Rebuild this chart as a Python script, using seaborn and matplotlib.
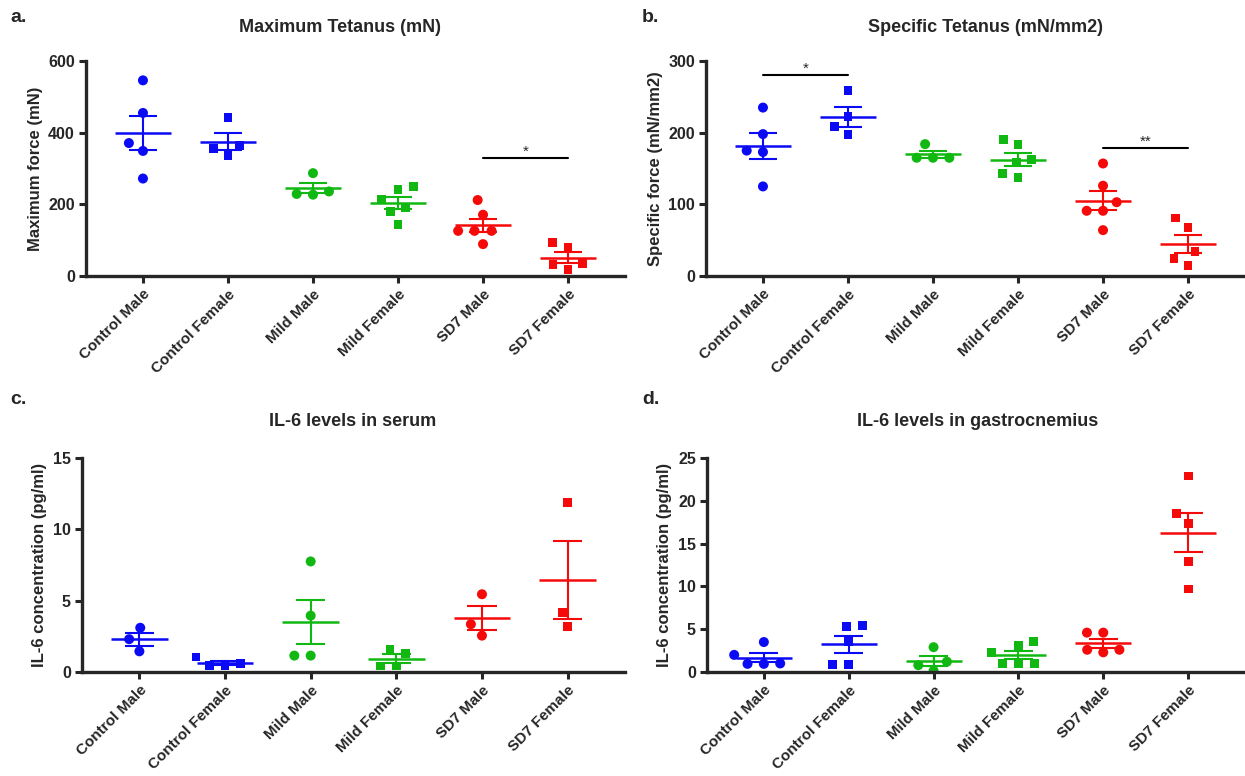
import numpy as np
import pandas as pd
import matplotlib
matplotlib.use('Agg')
import matplotlib.pyplot as plt
import seaborn as sns

groups = ['Control Male', 'Control Female', 'Mild Male', 'Mild Female', 'SD7 Male', 'SD7 Female']
colors = ['#0A0AF5', '#0A0AF5', '#12B812', '#12B812', '#F50A0A', '#F50A0A']

# values, one list per group
max_tetanus = [
    [546, 455, 371, 349, 272],
    [442, 365, 355, 336],
    [287, 236, 229, 227],
    [249, 241, 215, 192, 180, 143],
    [212, 171, 126, 126, 126, 89],
    [93, 81, 35, 31, 17],
]
specific_tetanus = [
    [235, 198, 175, 173, 125],
    [259, 222, 209, 197],
    [184, 165, 165, 165],
    [191, 183, 162, 158, 143, 137],
    [157, 126, 103, 91, 91, 64],
    [81, 68, 34, 25, 15],
]
il6_serum = [
    [3.1, 2.3, 1.45],
    [1.05, 0.6, 0.45, 0.45],
    [7.75, 3.95, 1.15, 1.15],
    [1.6, 1.3, 0.42, 0.42],
    [5.45, 3.35, 2.55],
    [11.85, 4.2, 3.2],
]
il6_gastro = [
    [3.5, 2.0, 1.0, 0.95, 0.95],
    [5.4, 5.35, 3.6, 0.9, 0.9],
    [2.9, 1.2, 0.8, 0.15],
    [3.6, 3.1, 2.3, 1.0, 1.0, 0.95],
    [4.6, 4.6, 2.6, 2.6, 2.3],
    [22.9, 18.5, 17.3, 12.9, 9.7],
]

# significance bars: (from group, to group, height, label)
sig_a = [(4, 5, 328, '*')]
sig_b = [(0, 1, 280, '*'), (4, 5, 178, '**')]

sns.set_style('ticks')
plt.rcParams['font.family'] = ['Liberation Sans', 'DejaVu Sans']
plt.rcParams['font.weight'] = 'bold'
plt.rcParams['axes.labelweight'] = 'bold'


def to_frame(values):
    rows = []
    for g, vals in zip(groups, values):
        for v in vals:
            rows.append((g, v))
    return pd.DataFrame(rows, columns=['group', 'value'])


def draw_panel(ax, values, ylim, yticks, ylabel, sigs=()):
    df = to_frame(values)
    pal = dict(zip(groups, colors))
    males = df[df['group'].str.endswith('Male')]
    females = df[df['group'].str.endswith('Female')]
    # transparent wide edge -> wider swarm spacing like the GraphPad layout
    sns.swarmplot(data=males, x='group', y='value', order=groups, hue='group',
                  hue_order=groups, palette=pal, marker='o', size=7.2,
                  linewidth=4, edgecolor=(0, 0, 0, 0),
                  legend=False, ax=ax, zorder=2)
    sns.swarmplot(data=females, x='group', y='value', order=groups, hue='group',
                  hue_order=groups, palette=pal, marker='s', size=6.4,
                  linewidth=4.5, edgecolor=(0, 0, 0, 0),
                  legend=False, ax=ax, zorder=2)

    # mean +/- SEM
    for i, vals in enumerate(values):
        m = np.mean(vals)
        s = np.std(vals, ddof=1) / np.sqrt(len(vals))
        c = colors[i]
        ax.hlines(m, i - 0.33, i + 0.33, color=c, lw=1.8, zorder=3)
        ax.vlines(i, m - s, m + s, color=c, lw=1.5, zorder=3)
        ax.hlines([m - s, m + s], i - 0.17, i + 0.17, color=c, lw=1.5, zorder=3)

    for x0, x1, h, lab in sigs:
        ax.plot([x0, x1], [h, h], color='black', lw=1.5, clip_on=False)
        ax.text((x0 + x1) / 2, h, lab, ha='center', va='bottom', fontsize=11,
                fontweight='normal')

    ax.set_xlim(-0.67, 5.67)
    ax.set_ylim(*ylim)
    ax.set_yticks(yticks)
    ax.set_xlabel('')
    ax.set_ylabel(ylabel, fontsize=12, fontweight='bold', labelpad=4)
    ax.set_xticks(range(len(groups)))
    ax.set_xticklabels(groups, rotation=45, ha='right', rotation_mode='anchor',
                       fontsize=11, fontweight='bold')
    ax.tick_params(axis='both', width=2.2, length=5, pad=3)
    ax.tick_params(axis='y', labelsize=11.5)
    for lab in ax.get_yticklabels():
        lab.set_fontweight('bold')
    sns.despine(ax=ax)
    for sp in ['left', 'bottom']:
        ax.spines[sp].set_linewidth(2.4)


fig = plt.figure(figsize=(12.45, 7.76), dpi=100)
W, H = 1245, 776


def axes_px(x0, x1, y0, y1):
    return fig.add_axes([x0 / W, 1 - y1 / H, (x1 - x0) / W, (y1 - y0) / H])


ax_a = axes_px(86, 625, 61, 276)
ax_b = axes_px(706, 1245, 61, 276)
ax_c = axes_px(82, 625, 458, 672)
ax_d = axes_px(707, 1245, 458, 672)

draw_panel(ax_a, max_tetanus, (0, 600), [0, 200, 400, 600], 'Maximum force (mN)', sig_a)
draw_panel(ax_b, specific_tetanus, (0, 300), [0, 100, 200, 300], 'Specific force (mN/mm2)', sig_b)
draw_panel(ax_c, il6_serum, (0, 15), [0, 5, 10, 15], 'IL-6 concentration (pg/ml)')
draw_panel(ax_d, il6_gastro, (0, 25), [0, 5, 10, 15, 20, 25], 'IL-6 concentration (pg/ml)')

titles = [('Maximum Tetanus (mN)', 340, 27), ('Specific Tetanus (mN/mm2)', 985, 27),
          ('IL-6 levels in serum', 353, 422), ('IL-6 levels in gastrocnemius', 978, 422)]
for t, x, y in titles:
    fig.text(x / W, 1 - y / H, t, ha='center', va='center', fontsize=13, fontweight='bold')

letters = [('a.', 10, 17), ('b.', 642, 17), ('c.', 10, 400), ('d.', 642, 400)]
for t, x, y in letters:
    fig.text(x / W, 1 - y / H, t, ha='left', va='center', fontsize=14, fontweight='bold')

fig.savefig('out.png', dpi=100)
